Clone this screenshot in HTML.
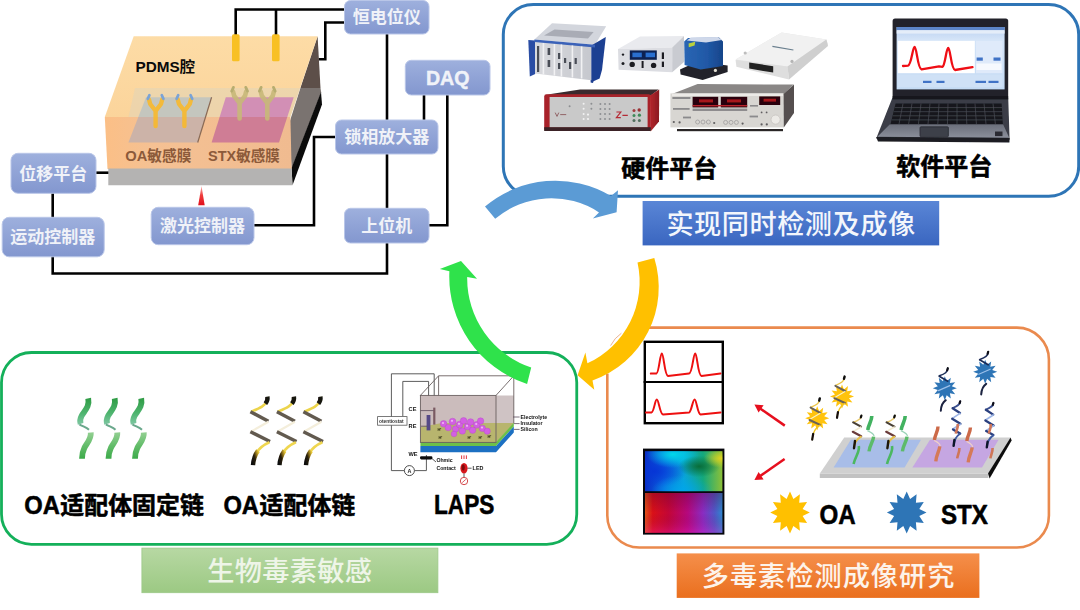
<!DOCTYPE html>
<html lang="zh">
<head>
<meta charset="utf-8">
<title>多毒素检测成像研究</title>
<style>
html,body{margin:0;padding:0;background:#fff;width:1080px;height:610px;overflow:hidden}
svg{display:block;position:absolute;left:0;top:0}
text{font-family:"Liberation Sans","Noto Sans CJK SC",sans-serif}
.b{font-weight:700}
.cj{font-family:"Liberation Sans","Noto Sans CJK SC",sans-serif}
.bx{fill:url(#gBox);stroke:#b9c6e8;stroke-width:1}
.bt{fill:#f0f2f8;font-weight:700;font-size:17px;text-anchor:middle}
.w{fill:none;stroke:#000;stroke-width:2.6;stroke-linejoin:miter}
.tiny{font-size:5.2px;font-weight:700;fill:#111}
</style>
</head>
<body>
<svg width="1080" height="610" viewBox="0 0 1080 610">
<defs>
<linearGradient id="gBox" x1="0" y1="0" x2="0" y2="1">
<stop offset="0" stop-color="#9eb0dd"/><stop offset="0.5" stop-color="#90a3d6"/><stop offset="1" stop-color="#8397cf"/>
</linearGradient>
<linearGradient id="gBlue" x1="0" y1="0" x2="0" y2="1">
<stop offset="0" stop-color="#5a86d6"/><stop offset="1" stop-color="#3a66c0"/>
</linearGradient>
<linearGradient id="gGreen" x1="0" y1="0" x2="0" y2="1">
<stop offset="0" stop-color="#b7d8a3"/><stop offset="1" stop-color="#9cc983"/>
</linearGradient>
<linearGradient id="gOrange" x1="0" y1="0" x2="0" y2="1">
<stop offset="0" stop-color="#f58f4b"/><stop offset="1" stop-color="#ea6f1e"/>
</linearGradient>
<filter id="soft" x="-5%" y="-5%" width="110%" height="110%"><feGaussianBlur stdDeviation="0.45"/></filter>
</defs>
<rect width="1080" height="610" fill="#ffffff"/>

<!-- ============ PANELS ============ -->
<g id="panels" fill="none">
<rect x="503.3" y="4.6" width="575.4" height="191.7" rx="30" ry="30" stroke="#2e75b6" stroke-width="3"/>
<rect x="1.5" y="352.5" width="575.25" height="191.8" rx="30" ry="30" stroke="#14b05a" stroke-width="2.8"/>
<path d="M648,327.6 H1016.9 A32,32 0 0 1 1048.9,359.6 V515.5 A32,32 0 0 1 1016.9,547.5 H639.3 A32,32 0 0 1 607.3,515.5 V373.5" stroke="#ea8a4e" stroke-width="2.6"/>
<path d="M610.6,345.6 A33,33 0 0 1 621.4,333.2" stroke="#e39a6e" stroke-width="1" opacity="0.75"/>
</g>

<!-- ============ BANNERS ============ -->
<g id="banners">
<rect x="642.6" y="201" width="296.6" height="44.4" fill="url(#gBlue)"/>
<text x="791" y="233.6" font-size="27.2" font-weight="500" fill="#f3f6fc" text-anchor="middle" letter-spacing="0.5">实现同时检测及成像</text>
<rect x="141.9" y="548.1" width="296" height="44.6" fill="url(#gGreen)" stroke="#9cc888" stroke-width="0.8"/>
<text x="289.8" y="580.6" font-size="27.2" font-weight="500" fill="#eef5e8" text-anchor="middle" letter-spacing="0.3">生物毒素敏感</text>
<rect x="676.7" y="553.4" width="302.7" height="44.5" fill="url(#gOrange)"/>
<text x="828.6" y="586.2" font-size="27.2" font-weight="500" fill="#fdf3ea" text-anchor="middle" letter-spacing="1">多毒素检测成像研究</text>
</g>

<!-- wiring -->
<g id="wiring">
<path class="w" d="M345,9.5 H235.7 V35"/>
<path class="w" d="M276,9.5 V35"/>
<path class="w" d="M345,22.5 H325.3 V59.3 H318.5"/>
<path class="w" d="M387,33 V121"/>
<path class="w" d="M387,153 V209"/>
<path class="w" d="M387,242 V273.5 H52.7 V256"/>
<path class="w" d="M52.7,192 V218"/>
<path class="w" d="M95,172.7 H109"/>
<path class="w" d="M424,94 V121"/>
<path class="w" d="M447.3,94 V225.3 H428"/>
<path class="w" d="M253,225.3 H314 V137 H336"/>
</g>
<!-- chamber -->
<g id="chamber">
<defs>
<linearGradient id="gTop" x1="0" y1="0" x2="0" y2="1"><stop offset="0" stop-color="#fddca6"/><stop offset="1" stop-color="#fbd49b"/></linearGradient>
<linearGradient id="gFront" x1="0" y1="0" x2="1" y2="0"><stop offset="0" stop-color="#fbbf86"/><stop offset="0.25" stop-color="#f5c193"/><stop offset="1" stop-color="#f0bb90"/></linearGradient>
<linearGradient id="gLaser" x1="0" y1="0" x2="0" y2="1"><stop offset="0" stop-color="#f7b0b0"/><stop offset="0.5" stop-color="#ee3a3a"/><stop offset="1" stop-color="#e00f1c"/></linearGradient>
<clipPath id="cTop"><polygon points="133.7,36.3 317.6,36.3 290.4,117 104.8,117"/></clipPath>
<clipPath id="cFront"><polygon points="104.8,117 290.4,117 292.5,185.3 104.8,185.3"/></clipPath>
</defs>
<!-- side faces -->
<polygon points="317.6,36.3 320.5,88 300.4,88" fill="#5d4f49"/>
<polygon points="300.4,88 320.5,88 321.2,92.5 291.6,169 289,124" fill="#7a7370"/>
<polygon points="321,92 322,104.4 292.5,185.3 291.6,168" fill="#0b0b0b"/>
<!-- top and front -->
<polygon points="133.7,36.3 317.6,36.3 290.4,117 104.8,117" fill="url(#gTop)"/>
<polygon points="104.8,117 290.4,117 291.6,169 107.5,169" fill="url(#gFront)"/>
<polygon points="108.3,168.6 291.6,168.6 292.5,185.3 108.3,185.3" fill="#b4b3b2"/>
<!-- inner translucent cavity -->
<polygon points="135,88 300.4,88 290.4,117 128.5,117" fill="#d9d3c0" opacity="0.42"/>
<!-- membranes -->
<g clip-path="url(#cTop)">
<polygon points="146,97.3 211.6,97.3 197.7,142.5 128.4,142.5" fill="#c4c6be"/>
<polygon points="225.8,97.3 293.7,97.3 279,142.5 211.6,142.5" fill="#d28fb5"/>
</g>
<g clip-path="url(#cFront)">
<polygon points="146,97.3 211.6,97.3 197.7,142.5 128.4,142.5" fill="#ccb3a8"/>
<polygon points="225.8,97.3 293.7,97.3 279,142.5 211.6,142.5" fill="#cf7d95"/>
</g>
<path d="M211.6,97.3 L197.7,142.5" stroke="#8a6a55" stroke-width="1.2" fill="none"/>
<!-- antibodies -->
<g fill="none" stroke-linecap="round" stroke-linejoin="round">
<g stroke="#f7b930" stroke-width="4.4" opacity="0.92"><path d="M155.6,126 V110 M155.6,111 L150.2,104 L149.0,99.5 M155.6,111 L161.0,104 L162.2,99.5"/><path d="M184.4,126 V110 M184.4,111 L179.0,104 L177.8,99.5 M184.4,111 L189.8,104 L191.0,99.5"/></g>
<g stroke="#7aa3d6" stroke-width="2.8"><path d="M147.8,98.8 l1.6,-3.6 M163.39999999999998,98.8 l-1.6,-3.6 M176.60000000000002,98.8 l1.6,-3.6 M192.2,98.8 l-1.6,-3.6"/></g>
<g stroke="#c6b878" stroke-width="4.6" opacity="0.9"><path d="M239.6,118.5 V102 M239.6,103 L234.2,96 L233.0,91.5 M239.6,103 L245.0,96 L246.2,91.5"/><path d="M267.3,118.5 V102 M267.3,103 L261.90000000000003,96 L260.70000000000005,91.5 M267.3,103 L272.7,96 L273.9,91.5"/></g>
<g stroke="#b7ad70" stroke-width="2.8"><path d="M231.8,91.0 l1.6,-3.6 M247.39999999999998,91.0 l-1.6,-3.6 M259.5,91.0 l1.6,-3.6 M275.1,91.0 l-1.6,-3.6"/></g>
</g>
<!-- electrodes -->
<rect x="232" y="34.3" width="7.6" height="27" rx="1.5" fill="#f8c024"/>
<rect x="272" y="34.3" width="7.6" height="27" rx="1.5" fill="#f8c024"/>
<!-- laser -->
<polygon points="201.5,186 204.7,205.3 198.2,205.3" fill="url(#gLaser)"/>
<!-- labels -->
<text x="135.6" y="72" font-size="15.3" class="b" fill="#0a0a0a">PDMS腔</text>
<text x="125.3" y="160.5" font-size="14.7" class="b" fill="#8c5a3a">OA敏感膜</text>
<text x="208" y="160.5" font-size="14.5" class="b" fill="#8c5a3a">STX敏感膜</text>
</g>
<!-- boxes -->
<g id="boxes">
<rect class="bx" x="344.5" y="0.5" width="84.5" height="33.5" rx="6"/>
<text class="bt cj" x="386.7" y="23.3">恒电位仪</text>
<rect class="bx" x="405.3" y="60.3" width="84.7" height="34.7" rx="6"/>
<text class="bt" x="447.7" y="84.6" style="font-size:19.6px" stroke="#f4f6fb" stroke-width="0.4">DAQ</text>
<rect class="bx" x="335.5" y="120" width="102.5" height="34" rx="6"/>
<text class="bt cj" x="386.7" y="143">锁相放大器</text>
<rect class="bx" x="344.5" y="208.3" width="84.5" height="34.7" rx="6"/>
<text class="bt cj" x="386.7" y="231.8">上位机</text>
<rect class="bx" x="11" y="153.3" width="85" height="40" rx="7"/>
<text class="bt cj" x="53.3" y="179.5">位移平台</text>
<rect class="bx" x="2.2" y="217.3" width="102" height="39.5" rx="7"/>
<text class="bt cj" x="52.7" y="243.3">运动控制器</text>
<rect class="bx" x="151.2" y="207.3" width="102.8" height="37.4" rx="7"/>
<text class="bt cj" x="202.5" y="232">激光控制器</text>
</g>
<!-- instruments -->
<g id="instruments" filter="url(#soft)">
<defs>
<linearGradient id="gRackF" x1="0" y1="0" x2="1" y2="0"><stop offset="0" stop-color="#d9dade"/><stop offset="1" stop-color="#c6c8ce"/></linearGradient>
<linearGradient id="gCube" x1="0" y1="0" x2="1" y2="0"><stop offset="0" stop-color="#2a66b4"/><stop offset="0.6" stop-color="#2058a6"/><stop offset="1" stop-color="#17458a"/></linearGradient>
<linearGradient id="gRedL" x1="0" y1="0" x2="1" y2="0"><stop offset="0" stop-color="#b4262c"/><stop offset="1" stop-color="#8a1a22"/></linearGradient>
</defs>
<!-- 1: blue rack chassis -->
<polygon points="534.4,39.4 552,23.2 606.2,26.2 595,44.8" fill="#d3d6dd"/>
<polygon points="544,35.6 554.5,29.6 593.6,32 588,38.6" fill="#a9acb5"/>
<polygon points="528.3,40 535.2,40.6 535.2,74 529.8,76.6" fill="#2a4ea4"/>
<polygon points="535,41 591.3,46 591.3,80.2 535,73.6" fill="url(#gRackF)"/>
<polygon points="591.3,45.4 605.8,37 602,70 599.6,78.6 591.3,82.2" fill="#1f3f92"/>
<polygon points="534.4,39.4 595,44.8 595,47.4 534.4,42" fill="#3b62b8"/>
<g fill="#4a4d57">
<rect x="537" y="46" width="2.2" height="26" /><rect x="547.6" y="48" width="2.6" height="7"/><rect x="547.6" y="60" width="2.6" height="7"/>
<rect x="558" y="53" width="2.4" height="6"/><rect x="558" y="63" width="2.4" height="6"/><rect x="564" y="58" width="2.2" height="5"/>
<rect x="569" y="62" width="2.4" height="7"/><rect x="574.6" y="58" width="2.2" height="6"/>
</g>
<g stroke="#f1f1f3" stroke-width="1.6"><path d="M543.4,43 V74.4 M554.4,44 V75.6 M561.4,44.6 V76.4 M572.4,45.6 V77.6 M581.6,46.4 V78.6"/></g>
<polygon points="590.6,80 593.6,80.8 593,83 590.6,82.4" fill="#1f3f92"/>
<!-- 2: white controller with blue display -->
<polygon points="618,49 640,36.4 684,36 672.4,47.6" fill="#e9eaee"/>
<polygon points="618,49 672.2,47.6 672.2,72.2 618.6,69.8" fill="#dcdde2"/>
<polygon points="672.2,47.6 684,36 684,62 672.2,72.2" fill="#c9cbd1"/>
<rect x="629.8" y="50.4" width="27" height="9.4" fill="#0f2452"/>
<rect x="632.4" y="52.6" width="9.4" height="4.6" fill="#2a6fd0"/><rect x="645.6" y="52.6" width="9.4" height="4.6" fill="#2a6fd0"/>
<g fill="#1e1f24"><circle cx="632.2" cy="64.4" r="2.7"/><circle cx="653.6" cy="65.4" r="2.7"/><circle cx="623" cy="54.6" r="1.2"/><circle cx="623" cy="63.4" r="1.5"/>
<rect x="641.6" y="61" width="2" height="7"/><rect x="661.8" y="52.4" width="2.2" height="6.6"/><rect x="661.8" y="61.6" width="2.2" height="5.4"/></g>
<!-- 3: blue cube on black base -->
<polygon points="680,69.6 697.4,61.4 727.6,65.4 727.6,72 702.6,80 680.6,74.4" fill="#23242a"/>
<polygon points="684.2,41.6 688,38 719,37.4 723,41.4 723,66 700.6,69.6 684.6,65" fill="url(#gCube)"/>
<polygon points="686.8,40.6 691,37.4 717.6,37 721.8,40 706,42.6" fill="#cfd8ea"/>
<polygon points="688.6,43.4 695.2,41.8 694.6,45.6 688.8,47.2" fill="#b9d13c"/>
<circle cx="715.4" cy="70.4" r="1.6" fill="#e6e2d6"/>
<!-- 4: white DAQ box -->
<polygon points="735.6,59.4 781.6,32.4 826.4,39.6 828,44.4 789,72.6 737.2,63.8" fill="#e6e6e6"/>
<polygon points="735.6,59.4 781.6,32.4 826.4,39.6 787.6,66.4" fill="#f1f1f1"/>
<polygon points="735.6,60 787.6,66.6 789,79.4 736.4,66.8" fill="#dedede"/>
<polygon points="787.6,66.4 826.4,39.6 828,46 789,79.4" fill="#cfcfcf"/>
<polygon points="749.2,62.6 773.2,66.2 773.2,72.6 749.2,68.6" fill="#232323"/>
<path d="M772.4,46.4 L793.4,50" stroke="#6a7f8e" stroke-width="1.2"/>
<circle cx="745.2" cy="53" r="1.6" fill="#bdbdbd"/><circle cx="792" cy="61.4" r="1.6" fill="#b4b4b4"/>
<!-- 5: red-sided instrument -->
<polygon points="546,94.8 580,89.4 658.6,89.4 650,96.2" fill="#3a2c2e"/>
<rect x="544.2" y="94.2" width="106.6" height="36.8" rx="2.2" fill="#a8242b"/>
<polygon points="650,95.6 659.2,89.6 659,121.4 650.6,131.4" fill="url(#gRedL)"/>
<rect x="549.6" y="97" width="98" height="30.6" fill="#c9c9c9"/>
<rect x="544.2" y="127.2" width="106.6" height="3.8" fill="#3b2426"/>
<g fill="#f2f2f2"><circle cx="583.6" cy="103.8" r="1"/><circle cx="583.6" cy="108.8" r="1"/><circle cx="583.6" cy="114" r="1"/><circle cx="588" cy="114.6" r="1.1"/><circle cx="588" cy="119" r="1.1"/><circle cx="583.6" cy="119" r="1"/></g>
<g fill="#8d8f92"><circle cx="569.6" cy="106.2" r="1"/><circle cx="591.4" cy="103.8" r="1"/><circle cx="591.4" cy="108.8" r="1"/><circle cx="600.4" cy="104" r="1"/><circle cx="605" cy="104" r="1"/><circle cx="609.6" cy="104" r="1"/><circle cx="600.4" cy="109" r="1"/><circle cx="605" cy="109" r="1"/><circle cx="609.6" cy="109" r="1"/><circle cx="600.4" cy="114" r="1"/><circle cx="605" cy="114" r="1"/><circle cx="609.6" cy="114" r="1"/><circle cx="600.4" cy="119" r="1"/><circle cx="605" cy="119" r="1"/><circle cx="609.6" cy="119" r="1"/></g>
<path d="M616.4,112 h4.4 l-4.4,5.6 h4.4 M622.4,115.4 h5.4" stroke="#b52a36" stroke-width="1.2" fill="none"/>
<path d="M555.2,112.6 l1.8,3.8 l1.8,-3.8 m1.4,2 h6" stroke="#7a3a3e" stroke-width="0.7" fill="none"/>
<g><circle cx="634" cy="110.6" r="1.5" fill="#a23a3e"/><circle cx="639.2" cy="110" r="1.7" fill="#9a3136"/><circle cx="634" cy="115.4" r="1.5" fill="#3f8a5a"/><circle cx="639.4" cy="115.2" r="1.6" fill="#3f8a5a"/><circle cx="634" cy="120.4" r="1.5" fill="#52705e"/><circle cx="639.4" cy="120.4" r="1.5" fill="#52705e"/></g>
<!-- 6: lock-in amplifier with red displays -->
<polygon points="672,94 697.6,84 793.6,84.6 783.6,94.6" fill="#8a8786"/>
<rect x="670.4" y="93.4" width="113.4" height="34" fill="#d8d6d2"/>
<polygon points="783.6,94 794,84.6 794,113 783.8,127.6" fill="#55504f"/>
<rect x="672" y="93.4" width="111" height="2.6" fill="#eceae7"/>
<rect x="677" y="129" width="106" height="2.2" fill="#2a2828"/>
<rect x="692.6" y="96.8" width="25.6" height="10.6" fill="#2c0508"/><rect x="720.8" y="96.8" width="26.4" height="10.6" fill="#2c0508"/><rect x="759.2" y="96.4" width="21" height="8.6" fill="#2c0508"/>
<rect x="699" y="99.4" width="14" height="3" fill="#a8141e"/><rect x="727" y="99.4" width="14" height="3" fill="#a8141e"/><rect x="763.6" y="98.8" width="12.4" height="2.8" fill="#a8141e"/>
<rect x="692.6" y="105" width="54.6" height="1.4" fill="#b8202a"/>
<rect x="692.6" y="108.6" width="54.6" height="2.4" fill="#8e8c8e"/>
<g fill="#8b8a8c"><rect x="672.4" y="97" width="18" height="2"/><rect x="673" y="108" width="16.6" height="1.8"/><rect x="683" y="116.6" width="8" height="1.8"/><rect x="749.6" y="115.6" width="8.4" height="1.8"/><rect x="750" y="105" width="8" height="1.6"/></g>
<g fill="none" stroke="#a5a3a3" stroke-width="0.9"><circle cx="697.6" cy="122" r="2"/><circle cx="703" cy="122" r="2"/><circle cx="708.4" cy="122" r="2"/><circle cx="725.6" cy="122.4" r="2"/><circle cx="731" cy="122.4" r="2"/><circle cx="736.4" cy="122.4" r="2"/></g>
<circle cx="775.6" cy="119.6" r="4.6" fill="#eceae6" stroke="#c6c3bf" stroke-width="0.8"/>
<g fill="#5f5d5f"><circle cx="673.8" cy="122" r="1.1"/><circle cx="679.6" cy="122.4" r="1.1"/><circle cx="714.2" cy="123" r="1.1"/><circle cx="742.6" cy="123.6" r="1.1"/><circle cx="761.6" cy="124.4" r="1.1"/><circle cx="766.8" cy="124.4" r="1.1"/><circle cx="761.6" cy="112.4" r="0.9"/><circle cx="766.6" cy="112.4" r="0.9"/></g>
</g>
<!-- laptop -->
<g id="laptop" filter="url(#soft)">
<defs>
<linearGradient id="gScr" x1="0" y1="0" x2="0" y2="1"><stop offset="0" stop-color="#b9d0f0"/><stop offset="0.2" stop-color="#d4e4f8"/><stop offset="1" stop-color="#c4dbf4"/></linearGradient>
<linearGradient id="gPalm" x1="0" y1="0" x2="0" y2="1"><stop offset="0" stop-color="#6b6f7b"/><stop offset="1" stop-color="#8b8f9b"/></linearGradient>
</defs>
<!-- lid -->
<rect x="892.6" y="18.4" width="115.6" height="80" rx="2.5" fill="#20222a"/>
<rect x="896.6" y="27" width="108" height="62.4" fill="url(#gScr)"/>
<rect x="896.6" y="27" width="108" height="3.2" fill="#5d86c8"/>
<rect x="896.6" y="30.2" width="108" height="3.4" fill="#e4edf9"/>
<rect x="897.8" y="40.8" width="77" height="32.4" fill="#ffffff"/>
<rect x="976" y="40.8" width="26.4" height="32.4" fill="#dfeafa"/>
<rect x="976.6" y="57.5" width="6.2" height="3.2" fill="#3f73c6"/><rect x="993.5" y="57.5" width="7" height="3.2" fill="#3f73c6"/>
<rect x="976.4" y="63.5" width="25" height="6.5" fill="#f6f9fe"/>
<rect x="897.8" y="74.6" width="104.6" height="12.6" fill="#cfe1f6"/>
<rect x="923" y="80.8" width="8.5" height="2.2" fill="#3f73c6"/><rect x="936.5" y="80.8" width="8" height="2.2" fill="#3f73c6"/><rect x="975.5" y="80.8" width="10.5" height="2.2" fill="#3f73c6"/><rect x="988.5" y="80.8" width="10" height="2.2" fill="#3f73c6"/>
<path d="M903,66 L908,65.6 C911.5,64.8 912.5,47 914.6,47 C916.8,47 917.5,68.5 921.5,69.4 L939,66.4 L942.5,66.8 C945.2,65.5 946.2,48 948.2,48 C950.4,48 951,69 955,70 L972.5,67.2" fill="none" stroke="#ef0f12" stroke-width="2.3" stroke-linejoin="round" stroke-linecap="round"/>
<!-- base -->
<polygon points="892.6,97.2 1008.2,97.2 1009.6,139.8 876.2,138.6" fill="#3a3d46"/>
<polygon points="895.6,103.5 1001.6,103.5 1002.8,124 890.6,124" fill="#16171b"/>
<g stroke="#4b4e57" stroke-width="0.7" fill="none">
<path d="M894.8,107.6 H1002 M893.8,111.7 H1002.2 M892.8,115.8 H1002.4 M891.8,119.9 H1002.6"/>
<path d="M903,103.5 L899,124 M912,103.5 L908.6,124 M921,103.5 L918.4,124 M930,103.5 L928,124 M939,103.5 L937.8,124 M948,103.5 L947.4,124 M957,103.5 L957,124 M966,103.5 L966.8,124 M975,103.5 L976.4,124 M984,103.5 L986,124 M993,103.5 L995.4,124"/>
</g>
<polygon points="889.6,124.6 1003.2,124.6 1009.2,137.8 877.4,136.8" fill="url(#gPalm)"/>
<rect x="920" y="126.8" width="28.4" height="10" rx="1" fill="#3c3f48" stroke="#2a2c33" stroke-width="0.8"/>
<polygon points="876.2,137 1009.6,138 1009.4,142.6 878,141.6" fill="#1c1d22"/>
<rect x="995" y="131.5" width="7.5" height="4.6" fill="#2a2c33"/>
<rect x="892.6" y="96" width="115.6" height="3.4" fill="#17181c"/>
</g>
<!-- labels -->
<g id="labels">
<g class="b" fill="#000" stroke="#000" stroke-width="0.55" stroke-linejoin="round" font-size="24">
<text x="669.3" y="176.8" text-anchor="middle">硬件平台</text>
<text x="944.2" y="174.6" text-anchor="middle">软件平台</text>
<text y="514"><tspan x="24.2" dy="0.4" font-size="26.6" textLength="35.6" lengthAdjust="spacingAndGlyphs">OA</tspan><tspan x="60.3" dy="-0.4" textLength="143.6" lengthAdjust="spacingAndGlyphs">适配体固定链</tspan></text>
<text y="514"><tspan x="223.4" dy="0.4" font-size="26.6" textLength="35.6" lengthAdjust="spacingAndGlyphs">OA</tspan><tspan x="259.5" dy="-0.4" textLength="95.8" lengthAdjust="spacingAndGlyphs">适配体链</tspan></text>
<text x="434" y="514.4" font-size="27" textLength="60.4" lengthAdjust="spacingAndGlyphs">LAPS</text>
</g>
</g>
<!-- ribbons -->
<g id="ribbons" filter="url(#soft)">
<defs>
<linearGradient id="gRibA" x1="0" y1="0" x2="0" y2="1"><stop offset="0" stop-color="#2f9c45"/><stop offset="0.6" stop-color="#4fb570"/><stop offset="1" stop-color="#7cc6a0"/></linearGradient>
<linearGradient id="gRibB" x1="0" y1="0" x2="0" y2="1"><stop offset="0" stop-color="#93cf92"/><stop offset="0.5" stop-color="#63bd6a"/><stop offset="1" stop-color="#3daa4a"/></linearGradient>

<linearGradient id="gRibY1" x1="1" y1="0" x2="0" y2="1"><stop offset="0" stop-color="#111"/><stop offset="0.28" stop-color="#3a2c10"/><stop offset="0.45" stop-color="#ecd040"/><stop offset="1" stop-color="#f8ec9a"/></linearGradient>
<linearGradient id="gRibY2" x1="1" y1="0" x2="0" y2="1"><stop offset="0" stop-color="#e8c838"/><stop offset="0.3" stop-color="#8a6e1a"/><stop offset="0.55" stop-color="#2a2008"/><stop offset="1" stop-color="#0d0d0d"/></linearGradient>

</defs>
<g transform="translate(78.4,397.8)" fill="none"><path d="M9.8,0.6 C11.5,9 6,13 3.2,18 C1.6,21 1.4,23.5 2.2,26" stroke="url(#gRibA)" stroke-width="5.8"/>
<path d="M1,26.5 C4,28.5 8,29.6 10.6,32" stroke="#6aa88c" stroke-width="2"/>
<path d="M12.4,34.6 C13,41 8.6,45 6,50 C4.2,53.6 3.6,57 3.6,61" stroke="url(#gRibB)" stroke-width="5.8"/></g>
<g transform="translate(104.9,397.8)" fill="none"><path d="M9.8,0.6 C11.5,9 6,13 3.2,18 C1.6,21 1.4,23.5 2.2,26" stroke="url(#gRibA)" stroke-width="5.8"/>
<path d="M1,26.5 C4,28.5 8,29.6 10.6,32" stroke="#6aa88c" stroke-width="2"/>
<path d="M12.4,34.6 C13,41 8.6,45 6,50 C4.2,53.6 3.6,57 3.6,61" stroke="url(#gRibB)" stroke-width="5.8"/></g>
<g transform="translate(131.4,397.8)" fill="none"><path d="M9.8,0.6 C11.5,9 6,13 3.2,18 C1.6,21 1.4,23.5 2.2,26" stroke="url(#gRibA)" stroke-width="5.8"/>
<path d="M1,26.5 C4,28.5 8,29.6 10.6,32" stroke="#6aa88c" stroke-width="2"/>
<path d="M12.4,34.6 C13,41 8.6,45 6,50 C4.2,53.6 3.6,57 3.6,61" stroke="url(#gRibB)" stroke-width="5.8"/></g>
<g transform="translate(250.4,396.2)" fill="none" stroke-linejoin="round"><path d="M16.4,4.6 C15.4,9.4 9,12 0.8,15.5" stroke="#ecd44c" stroke-width="2.6"/>
<path d="M17,0.4 C17.4,3 16.6,5.4 15,7.4" stroke="#15130c" stroke-width="4.4"/>
<path d="M0,15.5 L18,25" stroke="#625a4f" stroke-width="3.4"/>
<path d="M18,25.5 L0.5,35.5" stroke="#f4eedb" stroke-width="2.2"/>
<path d="M0,35.5 L19.6,45.3" stroke="#625a4f" stroke-width="3.4"/>
<path d="M19,46 C12.6,48.8 8.6,52.4 6.2,56.6" stroke="#efd650" stroke-width="2.6"/>
<path d="M7.6,54.4 C4.4,58.8 3,63.4 2.6,69" stroke="url(#gRibY2)" stroke-width="4.4"/></g>
<g transform="translate(276.9,396.2)" fill="none" stroke-linejoin="round"><path d="M16.4,4.6 C15.4,9.4 9,12 0.8,15.5" stroke="#ecd44c" stroke-width="2.6"/>
<path d="M17,0.4 C17.4,3 16.6,5.4 15,7.4" stroke="#15130c" stroke-width="4.4"/>
<path d="M0,15.5 L18,25" stroke="#625a4f" stroke-width="3.4"/>
<path d="M18,25.5 L0.5,35.5" stroke="#f4eedb" stroke-width="2.2"/>
<path d="M0,35.5 L19.6,45.3" stroke="#625a4f" stroke-width="3.4"/>
<path d="M19,46 C12.6,48.8 8.6,52.4 6.2,56.6" stroke="#efd650" stroke-width="2.6"/>
<path d="M7.6,54.4 C4.4,58.8 3,63.4 2.6,69" stroke="url(#gRibY2)" stroke-width="4.4"/></g>
<g transform="translate(303.4,396.2)" fill="none" stroke-linejoin="round"><path d="M16.4,4.6 C15.4,9.4 9,12 0.8,15.5" stroke="#ecd44c" stroke-width="2.6"/>
<path d="M17,0.4 C17.4,3 16.6,5.4 15,7.4" stroke="#15130c" stroke-width="4.4"/>
<path d="M0,15.5 L18,25" stroke="#625a4f" stroke-width="3.4"/>
<path d="M18,25.5 L0.5,35.5" stroke="#f4eedb" stroke-width="2.2"/>
<path d="M0,35.5 L19.6,45.3" stroke="#625a4f" stroke-width="3.4"/>
<path d="M19,46 C12.6,48.8 8.6,52.4 6.2,56.6" stroke="#efd650" stroke-width="2.6"/>
<path d="M7.6,54.4 C4.4,58.8 3,63.4 2.6,69" stroke="url(#gRibY2)" stroke-width="4.4"/></g>
</g>
<!-- laps -->
<g id="laps" filter="url(#soft)">
<!-- wiring -->
<g fill="none" stroke="#4a4a4a" stroke-width="0.9">
<path d="M391.4,470.6 V373.8 H434.2 V407.6"/>
<path d="M402.8,416.4 V381.4 H428.6 V415"/>
<path d="M391.4,470.6 H404.4 M414.4,470.6 H426.4 V455"/>
</g>
<!-- electrolyte volume -->
<polygon points="420.4,395.4 496,395.4 496,442.4 420.4,442.4" fill="#cbbcbc"/>
<polygon points="496,395.4 513.8,395.4 513.8,423 496,442.4" fill="#cfc3c4"/>
<!-- olive floor -->
<polygon points="420.4,442.4 496,442.4 513.8,423 442,423" fill="#b8b56e"/>
<polygon points="420.4,427 442,423 513.8,423 496,442.4 420.4,442.4" fill="#b8b56e"/>
<!-- insulator (green) + silicon (blue) -->
<polygon points="420.4,442.2 496,442.2 513.8,422.8 513.8,426.6 496,446 420.4,446" fill="#6cc04a"/>
<polygon points="420.4,446 496,446 513.8,426.6 513.8,432.6 496,452.2 420.4,452.2" fill="#1c6fc2"/>
<!-- cuboid wireframe -->
<g fill="none" stroke="#6a6060" stroke-width="0.9">
<rect x="420.4" y="395.4" width="75.6" height="47"/>
<path d="M420.4,395.4 L438.6,375.8 H513.8 L496,395.4 M513.8,375.8 V423 M438.6,375.8 V395.4"/>
</g>
<!-- electrodes -->
<rect x="426.6" y="415" width="3.8" height="15.4" fill="#544a86"/>
<rect x="433.2" y="407.6" width="2.2" height="17" fill="#7a5a62"/>
<!-- cells -->
<g fill="#d35fe3" stroke="#b648c8" stroke-width="0.4">
<circle cx="443.6" cy="423.8" r="3.3"/><circle cx="448.2" cy="427.6" r="3.2"/><circle cx="452.6" cy="421.6" r="3.4"/><circle cx="455.6" cy="429" r="3.2"/><circle cx="459.6" cy="424.6" r="3.4"/><circle cx="463.6" cy="420.8" r="3.3"/><circle cx="462.4" cy="431" r="3.2"/><circle cx="467.6" cy="426.6" r="3.4"/><circle cx="470.6" cy="422" r="3.3"/><circle cx="472.6" cy="430.2" r="3.2"/><circle cx="476.8" cy="424.8" r="3.4"/><circle cx="480.6" cy="421" r="3.2"/><circle cx="482.4" cy="428.4" r="3.2"/><circle cx="487.2" cy="431.2" r="3.1"/><circle cx="454" cy="434" r="2.8"/>
</g>
<g fill="#efb4f6"><circle cx="443" cy="423" r="1.1"/><circle cx="452" cy="420.8" r="1.1"/><circle cx="459" cy="423.8" r="1.1"/><circle cx="467" cy="425.8" r="1.1"/><circle cx="476.2" cy="424" r="1.1"/><circle cx="482" cy="427.6" r="1.1"/></g>
<!-- contact + LED -->
<rect x="420" y="456.2" width="12.4" height="3.2" rx="1.4" fill="#0a0a0a"/>
<path d="M432,458.6 L436,462" stroke="#333" stroke-width="0.8"/>
<g stroke="#e0242a" stroke-width="0.9"><path d="M461.6,455.4 v3.6 M464,455.4 v3.6 M466.4,455.4 v3.6"/></g>
<ellipse cx="464" cy="468.2" rx="3.6" ry="5.2" fill="#d8161c"/>
<ellipse cx="463.2" cy="467.6" rx="1.5" ry="3" fill="#7c0a0e"/>
<path d="M467.6,468.2 H471.6 M464,473.4 V477" stroke="#333" stroke-width="0.8"/>
<circle cx="464" cy="481" r="3.7" fill="#fff" stroke="#cf3438" stroke-width="0.9"/>
<path d="M462.2,482.6 L465.8,479.4" stroke="#cf3438" stroke-width="0.8"/>
<circle cx="409.4" cy="470.6" r="5" fill="#fff" stroke="#3a3a3a" stroke-width="0.9"/>
<rect x="377.6" y="416.6" width="29.4" height="8.6" fill="#fff" stroke="#5a5a5a" stroke-width="0.8"/>
<path d="M420.4,410.6 H433.6 M421,426.2 H427 M513,417 H519.6 M513.8,423.6 H519.6 M513.8,429.4 H519.6" stroke="#5a4a5a" stroke-width="0.8"/>
<!-- tiny labels -->
<g class="tiny">
<text x="408.6" y="411.4" font-size="5.6">CE</text>
<text x="408.6" y="427.8" font-size="5.6">RE</text>
<text x="408.4" y="455.8" font-size="5.6">WE</text>
<text x="379" y="422.8" font-size="4.8" fill="#333">otentiostat</text>
<text x="520.6" y="418.6" font-size="5.2">Electrolyte</text>
<text x="520.6" y="425" font-size="5.2">Insulator</text>
<text x="520.6" y="431.2" font-size="5.2">Silicon</text>
<text x="436.4" y="462.4" font-size="5.2">Ohmic</text>
<text x="436.4" y="470.2" font-size="5.2">Contact</text>
<text x="472.6" y="470.2" font-size="5.4">LED</text>
<text x="407.6" y="472.6" font-size="5.4" fill="#222">A</text>
<g font-size="4" fill="#2a2a10"><text x="437.4" y="431.4">H⁺</text><text x="438.6" y="438.8">H⁺</text><text x="478.6" y="439.2">H⁺</text><text x="487.4" y="437.8">H⁺</text><text x="467.6" y="438.8">H⁺</text></g>
</g>
</g>
<!-- results -->
<g id="results">
<defs>
<linearGradient id="hm1a" x1="0" y1="0" x2="1" y2="0">
<stop offset="0" stop-color="#0a2ec6"/><stop offset="0.25" stop-color="#0a6ae2"/><stop offset="0.5" stop-color="#08a4da"/><stop offset="0.75" stop-color="#14a87c"/><stop offset="1" stop-color="#8cc038"/>
</linearGradient>
<radialGradient id="hm1b" cx="0.36" cy="0.08" r="0.34"><stop offset="0" stop-color="#00dcea" stop-opacity="0.95"/><stop offset="1" stop-color="#00dcea" stop-opacity="0"/></radialGradient>
<radialGradient id="hm1c" cx="0.7" cy="0.38" r="0.27"><stop offset="0" stop-color="#086a34" stop-opacity="0.95"/><stop offset="1" stop-color="#086a34" stop-opacity="0"/></radialGradient>
<radialGradient id="hm1d" cx="0.12" cy="0.5" r="0.42"><stop offset="0" stop-color="#0634d6" stop-opacity="0.95"/><stop offset="1" stop-color="#0634d6" stop-opacity="0"/></radialGradient>
<radialGradient id="hm1e" cx="1" cy="0.18" r="0.24"><stop offset="0" stop-color="#e6d21e" stop-opacity="1"/><stop offset="1" stop-color="#c8d020" stop-opacity="0"/></radialGradient>
<radialGradient id="hm1f" cx="0.48" cy="1" r="0.4"><stop offset="0" stop-color="#00a6ec" stop-opacity="0.9"/><stop offset="1" stop-color="#00a6ec" stop-opacity="0"/></radialGradient>
<linearGradient id="hm2a" x1="0" y1="0" x2="1" y2="0">
<stop offset="0" stop-color="#e2521a"/><stop offset="0.1" stop-color="#da1018"/><stop offset="0.3" stop-color="#c40636"/><stop offset="0.55" stop-color="#b6087e"/><stop offset="0.75" stop-color="#8a2cc2"/><stop offset="0.9" stop-color="#5058c8"/><stop offset="1" stop-color="#2e88d0"/>
</linearGradient>
<linearGradient id="hm2b" x1="0" y1="0" x2="0" y2="1">
<stop offset="0" stop-color="#50002c" stop-opacity="0.32"/><stop offset="0.5" stop-color="#50002c" stop-opacity="0"/><stop offset="1" stop-color="#ff22d8" stop-opacity="0.28"/>
</linearGradient>
</defs>
<rect x="644.8" y="341.8" width="78" height="81.4" fill="#fff" stroke="#000" stroke-width="2.4"/>
<path d="M643.6,382 H724" stroke="#000" stroke-width="2.2"/>
<g fill="none" stroke="#ee1010" stroke-width="2" stroke-linejoin="round" stroke-linecap="round">
<path d="M650.8,373.6 L656.5,373.4 C659,373 660,353.5 661.8,353.5 C663.8,353.5 664.5,375.5 668,376 L689,373.6 C692.5,373.4 693.2,353.5 695.2,353.5 C697.2,353.5 697.8,375.5 701.5,376 L720.5,373.4"/>
<path d="M646,412.6 L651.5,412.4 C654,412 655,399.5 656.8,399.5 C658.8,399.5 659.8,414 663,414.5 L689,412.4 C691.5,412 692.6,399.5 694.6,399.5 C696.6,399.5 697.5,414 700.5,414.5 L720.5,412.4"/>
</g>
<rect x="643" y="448.6" width="81.4" height="86" fill="#06060c"/>
<rect x="645" y="451.2" width="77.4" height="40" fill="url(#hm1a)"/>
<rect x="645" y="451.2" width="77.4" height="40" fill="url(#hm1d)"/>
<rect x="645" y="451.2" width="77.4" height="40" fill="url(#hm1f)"/>
<rect x="645" y="451.2" width="77.4" height="40" fill="url(#hm1b)"/>
<rect x="645" y="451.2" width="77.4" height="40" fill="url(#hm1c)"/>
<rect x="645" y="451.2" width="77.4" height="40" fill="url(#hm1e)"/>
<rect x="645" y="493" width="77.4" height="39.8" fill="url(#hm2a)"/>
<rect x="645" y="493" width="77.4" height="39.8" fill="url(#hm2b)"/>
<!-- red arrows -->
<g stroke="#e60f1e" stroke-width="2.5" fill="#e60f1e" stroke-linecap="butt">
<path d="M784.8,425.6 L760.5,408.8" fill="none"/>
<polygon points="754.4,404.6 763.6,405.2 758.6,412.6" stroke="none"/>
<path d="M784.6,459 L760.5,475.8" fill="none"/>
<polygon points="754.4,480 758.6,472 763.6,479.4" stroke="none"/>
</g>
</g>
<!-- chip -->
<g id="chip" filter="url(#soft)">
<defs>






</defs>
<!-- chip -->
<polygon points="819.8,473.4 988.4,473.4 988.4,478 819.8,478" fill="#c2c2c2"/>
<polygon points="844.2,437.4 1010.6,437.4 988.4,473.6 819.8,473.6" fill="#d0d0d0"/>
<polygon points="1010.6,437.4 1011.6,440.4 989.6,478.4 988,473.6" fill="#0d0d0d"/>
<polygon points="850.8,439.8 921,439.8 904.6,467.6 833.6,467.6" fill="#a8bde8"/>
<polygon points="930,439.8 998.6,439.8 982,467.6 912.4,467.6" fill="#c5a6e2"/>
<!-- orange ribbons (behind) -->
<g transform="translate(934.2,426.4)" fill="none"><path d="M3.8,0 C3.8,5 0.8,8 0.2,13.6" stroke="#cc6b4a" stroke-width="3.4"/>
<path d="M0,14 C2.6,15.6 5.6,17 6,19.4" stroke="#f2d2c4" stroke-width="1.2"/>
<path d="M5.6,20 C5,25 2.2,28 1.6,35" stroke="#d57a58" stroke-width="3.4"/></g>
<g transform="translate(966.6,427.4)" fill="none"><path d="M3.8,0 C3.8,5 0.8,8 0.2,13.6" stroke="#cc6b4a" stroke-width="3.4"/>
<path d="M0,14 C2.6,15.6 5.6,17 6,19.4" stroke="#f2d2c4" stroke-width="1.2"/>
<path d="M5.6,20 C5,25 2.2,28 1.6,35" stroke="#d57a58" stroke-width="3.4"/></g>
<!-- ribbons on blue area -->
<g transform="translate(856.4,415.6)" fill="none" stroke-linecap="round"><path d="M5,0 C5.2,3.4 1.6,5 -2.8,6.6" stroke="#e8c86a" stroke-width="1.6"/>
<path d="M5,0 L4.4,1.8" stroke="#0a0a0a" stroke-width="2.2"/>
<path d="M-3.2,6.8 L4.6,11" stroke="#4a4034" stroke-width="2.2"/>
<path d="M4.6,11.4 L-3.4,16" stroke="#f2ead0" stroke-width="1.5"/>
<path d="M-3.6,16.2 L4.8,20.6" stroke="#6a3a3a" stroke-width="2.2"/>
<path d="M4.6,21 C0,23.6 -1.8,26.6 -2.2,32" stroke="#e6c048" stroke-width="1.8"/>
<path d="M-1.4,25.4 L-2.4,32.6" stroke="#1a150a" stroke-width="2.4"/></g>
<g transform="translate(867.4,416)" fill="none"><path d="M4.4,0 C4.4,5 1,8.6 0.4,14" stroke="#43b261" stroke-width="3.6"/>
<path d="M0,14.6 C3,16 6.4,17.4 6.6,20" stroke="#9ad2b6" stroke-width="1.2"/>
<path d="M6.2,20.6 C5.8,26 2.4,28.6 1.6,35.4" stroke="#5cbb6a" stroke-width="3.4"/></g>
<g transform="translate(889.8,415.6)" fill="none" stroke-linecap="round"><path d="M5,0 C5.2,3.4 1.6,5 -2.8,6.6" stroke="#e8c86a" stroke-width="1.6"/>
<path d="M5,0 L4.4,1.8" stroke="#0a0a0a" stroke-width="2.2"/>
<path d="M-3.2,6.8 L4.6,11" stroke="#4a4034" stroke-width="2.2"/>
<path d="M4.6,11.4 L-3.4,16" stroke="#f2ead0" stroke-width="1.5"/>
<path d="M-3.6,16.2 L4.8,20.6" stroke="#6a3a3a" stroke-width="2.2"/>
<path d="M4.6,21 C0,23.6 -1.8,26.6 -2.2,32" stroke="#e6c048" stroke-width="1.8"/>
<path d="M-1.4,25.4 L-2.4,32.6" stroke="#1a150a" stroke-width="2.4"/></g>
<g transform="translate(900.8,416)" fill="none"><path d="M4.4,0 C4.4,5 1,8.6 0.4,14" stroke="#43b261" stroke-width="3.6"/>
<path d="M0,14.6 C3,16 6.4,17.4 6.6,20" stroke="#9ad2b6" stroke-width="1.2"/>
<path d="M6.2,20.6 C5.8,26 2.4,28.6 1.6,35.4" stroke="#5cbb6a" stroke-width="3.4"/></g>
<!-- green lower parts crossing -->
<g fill="none" stroke="#4cb860" stroke-width="2.6">
<path d="M858.8,446 C860,452 855.4,456 853.6,464"/>
<path d="M892,446 C893.4,452 888.8,456 887,464"/>
</g>
<!-- ribbons on purple area -->
<g transform="translate(955.6,401.4)" fill="none" stroke-linecap="round"><path d="M4.6,0 C4.6,3.4 1.4,4.8 -2.8,6.6" stroke="#3a4f8e" stroke-width="1.8"/>
<path d="M4.6,0 L4,1.8" stroke="#0a0a14" stroke-width="2.2"/>
<path d="M-3,6.8 L4.4,11.6" stroke="#2a3f7e" stroke-width="2.3"/>
<path d="M4.4,12 L-3.2,17" stroke="#9db5e6" stroke-width="1.7"/>
<path d="M-3.4,17.4 L4.8,22.4" stroke="#2a3f7e" stroke-width="2.3"/>
<path d="M4.8,22.8 L-2.6,27.6" stroke="#9db5e6" stroke-width="1.7"/>
<path d="M-2.6,28 L4.6,32" stroke="#2a3f7e" stroke-width="2.3"/>
<path d="M4.4,32.4 C0.6,35 -1.4,38 -1.8,44" stroke="#3f5aa0" stroke-width="1.9"/>
<path d="M-1.2,38.6 L-2,44.4" stroke="#10142a" stroke-width="2.4"/></g>
<g transform="translate(988.8,403)" fill="none" stroke-linecap="round"><path d="M4.6,0 C4.6,3.4 1.4,4.8 -2.8,6.6" stroke="#3a4f8e" stroke-width="1.8"/>
<path d="M4.6,0 L4,1.8" stroke="#0a0a14" stroke-width="2.2"/>
<path d="M-3,6.8 L4.4,11.6" stroke="#2a3f7e" stroke-width="2.3"/>
<path d="M4.4,12 L-3.2,17" stroke="#9db5e6" stroke-width="1.7"/>
<path d="M-3.4,17.4 L4.8,22.4" stroke="#2a3f7e" stroke-width="2.3"/>
<path d="M4.8,22.8 L-2.6,27.6" stroke="#9db5e6" stroke-width="1.7"/>
<path d="M-2.6,28 L4.6,32" stroke="#2a3f7e" stroke-width="2.3"/>
<path d="M4.4,32.4 C0.6,35 -1.4,38 -1.8,44" stroke="#3f5aa0" stroke-width="1.9"/>
<path d="M-1.2,38.6 L-2,44.4" stroke="#10142a" stroke-width="2.4"/></g>
<g fill="none" stroke="#cf7658" stroke-width="2.6"><path d="M957.6,424 C958.4,428 956.4,430 955.8,433.6 M990.6,424 C991.4,428 989.4,430 988.8,433.6 M959.4,448 C959.6,452 957.6,455 957.2,458.4 M992.6,448 C992.8,452 990.8,455 990.4,458.4"/></g>
<!-- stars w/ ribbons -->
<g transform="translate(817.2,418.2)"><polygon fill="#ffc30a" points="0.0,-12.0 1.9,-7.0 6.0,-10.4 5.1,-5.1 10.4,-6.0 7.0,-1.9 12.0,0.0 7.0,1.9 10.4,6.0 5.1,5.1 6.0,10.4 1.9,7.0 0.0,12.0 -1.9,7.0 -6.0,10.4 -5.1,5.1 -10.4,6.0 -7.0,1.9 -12.0,0.0 -7.0,-1.9 -10.4,-6.0 -5.1,-5.1 -6.0,-10.4 -1.9,-7.0"/>
<g fill="none" stroke-linecap="round">
<path d="M2.6,-19.6 C2.8,-15 -1,-13.4 -6.4,-11" stroke="#ecc648" stroke-width="1.3"/>
<path d="M-6.6,-10.6 L3,-5.4" stroke="#6a6258" stroke-width="2"/>
<path d="M3,-5 L-7.6,1.4" stroke="#fbf0c2" stroke-width="1.2"/>
<path d="M-7.6,1.8 L3,6.6" stroke="#6a6258" stroke-width="2"/>
<path d="M3,7 C-2.4,10 -4.4,14 -5,21" stroke="#f2c422" stroke-width="1.4"/>
<path d="M-4,15.6 L-5,21.4" stroke="#14110a" stroke-width="2.2"/>
<path d="M2.6,-19.8 L2,-17.6" stroke="#0a0a0a" stroke-width="2.4"/>
</g></g>
<g transform="translate(842,396.4)"><polygon fill="#ffc30a" points="0.0,-12.0 1.9,-7.0 6.0,-10.4 5.1,-5.1 10.4,-6.0 7.0,-1.9 12.0,0.0 7.0,1.9 10.4,6.0 5.1,5.1 6.0,10.4 1.9,7.0 0.0,12.0 -1.9,7.0 -6.0,10.4 -5.1,5.1 -10.4,6.0 -7.0,1.9 -12.0,0.0 -7.0,-1.9 -10.4,-6.0 -5.1,-5.1 -6.0,-10.4 -1.9,-7.0"/>
<g fill="none" stroke-linecap="round">
<path d="M2.6,-19.6 C2.8,-15 -1,-13.4 -6.4,-11" stroke="#ecc648" stroke-width="1.3"/>
<path d="M-6.6,-10.6 L3,-5.4" stroke="#6a6258" stroke-width="2"/>
<path d="M3,-5 L-7.6,1.4" stroke="#fbf0c2" stroke-width="1.2"/>
<path d="M-7.6,1.8 L3,6.6" stroke="#6a6258" stroke-width="2"/>
<path d="M3,7 C-2.4,10 -4.4,14 -5,21" stroke="#f2c422" stroke-width="1.4"/>
<path d="M-4,15.6 L-5,21.4" stroke="#14110a" stroke-width="2.2"/>
<path d="M2.6,-19.8 L2,-17.6" stroke="#0a0a0a" stroke-width="2.4"/>
</g></g>
<g transform="translate(944.8,388.2)"><polygon fill="#2e75b6" points="0.0,-12.0 1.9,-7.0 6.0,-10.4 5.1,-5.1 10.4,-6.0 7.0,-1.9 12.0,0.0 7.0,1.9 10.4,6.0 5.1,5.1 6.0,10.4 1.9,7.0 0.0,12.0 -1.9,7.0 -6.0,10.4 -5.1,5.1 -10.4,6.0 -7.0,1.9 -12.0,0.0 -7.0,-1.9 -10.4,-6.0 -5.1,-5.1 -6.0,-10.4 -1.9,-7.0"/>
<g fill="none" stroke-linecap="round">
<path d="M3,-20 C3,-16 0,-14.4 -5.4,-12.4" stroke="#1e2f5a" stroke-width="1.6"/>
<path d="M-5.6,-12 L3,-7" stroke="#1b2b55" stroke-width="1.6"/>
<path d="M5,-2.6 L-6.4,2.4" stroke="#9cc0ea" stroke-width="1.2"/>
<path d="M1,12 C-2,14 -3.6,17 -4,22.6" stroke="#1b2340" stroke-width="2"/>
<path d="M3,-20 L2.4,-18" stroke="#0a0a14" stroke-width="2.2"/>
</g></g>
<g transform="translate(985.2,371.8)"><polygon fill="#2e75b6" points="0.0,-12.0 1.9,-7.0 6.0,-10.4 5.1,-5.1 10.4,-6.0 7.0,-1.9 12.0,0.0 7.0,1.9 10.4,6.0 5.1,5.1 6.0,10.4 1.9,7.0 0.0,12.0 -1.9,7.0 -6.0,10.4 -5.1,5.1 -10.4,6.0 -7.0,1.9 -12.0,0.0 -7.0,-1.9 -10.4,-6.0 -5.1,-5.1 -6.0,-10.4 -1.9,-7.0"/>
<g fill="none" stroke-linecap="round">
<path d="M3,-20 C3,-16 0,-14.4 -5.4,-12.4" stroke="#1e2f5a" stroke-width="1.6"/>
<path d="M-5.6,-12 L3,-7" stroke="#1b2b55" stroke-width="1.6"/>
<path d="M5,-2.6 L-6.4,2.4" stroke="#9cc0ea" stroke-width="1.2"/>
<path d="M1,12 C-2,14 -3.6,17 -4,22.6" stroke="#1b2340" stroke-width="2"/>
<path d="M3,-20 L2.4,-18" stroke="#0a0a14" stroke-width="2.2"/>
</g></g>
</g>
<!-- legend -->
<g id="legend">
<polygon id="st12" fill="#ffc000" points="0.0,-21.0 3.4,-13.4 9.9,-18.2 9.2,-9.8 17.1,-10.5 12.6,-3.6 19.8,0.0 12.6,3.6 17.1,10.5 9.2,9.8 9.9,18.2 3.4,13.4 0.0,21.0 -3.4,13.4 -9.9,18.2 -9.2,9.8 -17.1,10.5 -12.6,3.6 -19.8,0.0 -12.6,-3.6 -17.1,-10.5 -9.2,-9.8 -9.9,-18.2 -3.4,-13.4" transform="translate(790,512.5)"/>
<polygon fill="#2e75b6" points="0.0,-21.0 3.4,-13.4 9.9,-18.2 9.2,-9.8 17.1,-10.5 12.6,-3.6 19.8,0.0 12.6,3.6 17.1,10.5 9.2,9.8 9.9,18.2 3.4,13.4 0.0,21.0 -3.4,13.4 -9.9,18.2 -9.2,9.8 -17.1,10.5 -12.6,3.6 -19.8,0.0 -12.6,-3.6 -17.1,-10.5 -9.2,-9.8 -9.9,-18.2 -3.4,-13.4" transform="translate(906.7,512.5)"/>
<g class="b" fill="#000" stroke="#000" stroke-width="0.55" stroke-linejoin="round" font-size="27.4">
<text x="819.6" y="523.6" textLength="36.2" lengthAdjust="spacingAndGlyphs">OA</text>
<text x="941" y="523.6" textLength="47" lengthAdjust="spacingAndGlyphs">STX</text>
</g>
</g>
<!-- arrows -->
<g id="arrows">
<path fill="#5b9bd5" d="M485,206.5 A109,109 0 0 1 611,196 L618,190.3 L616.6,212.2 L592.8,218.6 L599,212.4 A87,87 0 0 0 495.2,218.8 Z"/>
<path fill="#2fe24b" d="M527.1,384 A113,113 0 0 1 449.4,271.2 L439.8,268.9 L461,260.9 L477,278.7 L467.2,277 A94,94 0 0 0 531.2,367.5 Z"/>
<path fill="#ffc000" d="M654.3,258.1 A98.6,98.6 0 0 1 592.5,380.5 L594.3,389.7 L577.6,375.3 L585.4,352.4 L587.4,363.3 A89.6,89.6 0 0 0 637.5,262.5 Z"/>
</g>
</svg>
</body>
</html>
